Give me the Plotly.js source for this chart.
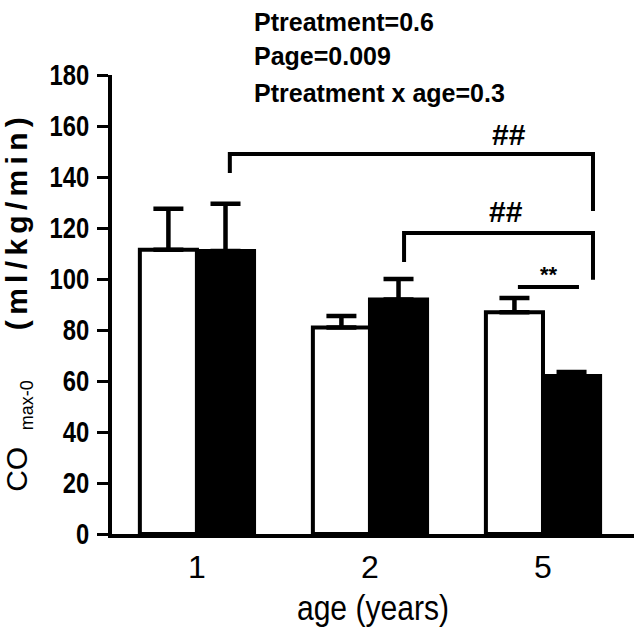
<!DOCTYPE html>
<html>
<head>
<meta charset="utf-8">
<script src="https://cdn.plot.ly/plotly-3.0.1.min.js"></script>
<style>
html,body{margin:0;padding:0;background:#fff;}
#chart{width:642px;height:643px;}
</style>
</head>
<body>
<div id="chart"></div>
<script>
// ---- data ----
const ages = ['1', '2', '5'];
const controlMean = [111.5, 81, 87];
const controlSD = [16, 4.5, 5.5];
const treatedMean = [111, 92, 62];
const treatedSD = [18.5, 8, 1.5];
const noLowerError = [0, 0, 0];
const yTickValues = [0, 20, 40, 60, 80, 100, 120, 140, 160, 180];
const statLines = ['Ptreatment=0.6', 'Page=0.009', 'Ptreatment x age=0.3'];
const sigLabels = ['##', '##', '**'];

const FONT = 'Liberation Sans, Arial, sans-serif';

const errStyle = {type: 'data', symmetric: false, color: '#000', thickness: 4.5, width: 15};

const traces = [
  {
    type: 'bar', name: 'control', x: ages, y: controlMean,
    marker: {color: '#fff', line: {color: '#000', width: 4}},
    error_y: Object.assign({array: controlSD, arrayminus: noLowerError}, errStyle),
    hoverinfo: 'x+y'
  },
  {
    type: 'bar', name: 'treated', x: ages, y: treatedMean,
    marker: {color: '#000', line: {color: '#000', width: 4}},
    error_y: Object.assign({array: treatedSD, arrayminus: noLowerError}, errStyle),
    hoverinfo: 'x+y'
  }
];

const lineStyle = {color: '#000', width: 4};
const shapes = [
  {type: 'path', xref: 'x', yref: 'y', path: 'M0.19,141.6 L0.19,149 L2.289,149 L2.289,126.7', line: lineStyle},
  {type: 'path', xref: 'x', yref: 'y', path: 'M1.197,106.7 L1.197,118 L2.289,118 L2.289,99.7', line: lineStyle},
  {type: 'line', xref: 'x', yref: 'y', x0: 1.855, x1: 2.208, y0: 96.9, y1: 96.9, line: lineStyle}
];

const statY = [1.116, 1.042, 0.960];
const annotations = statLines.map((t, i) => ({
  text: t, xref: 'paper', yref: 'paper', x: 0.268, y: statY[i],
  xanchor: 'left', yanchor: 'middle', showarrow: false,
  font: {family: FONT, size: 25, color: '#000', weight: 'bold'}
}));
const sigPos = [[1.803, 156.5, 30], [1.786, 126.3, 30], [2.035, 101.6, 22]];
sigLabels.forEach((t, i) => annotations.push({
  text: t, xref: 'x', yref: 'y', x: sigPos[i][0], y: sigPos[i][1],
  xanchor: 'center', yanchor: 'middle', showarrow: false,
  font: {family: FONT, size: sigPos[i][2], color: '#000', weight: 'bold'}
}));

const NB = '\u00a0';
const layout = {
  width: 642, height: 643,
  margin: {l: 112, r: 8, t: 75, b: 109, pad: 0},
  paper_bgcolor: '#fff', plot_bgcolor: '#fff',
  showlegend: false,
  barmode: 'group', bargap: 0.34, bargroupgap: 0,
  font: {family: FONT, color: '#000'},
  xaxis: {
    type: 'category', range: [-0.491, 2.526],
    showline: true, linecolor: '#000', linewidth: 4,
    showgrid: false, zeroline: false, ticks: '',
    tickfont: {family: FONT, size: 32, color: '#000'},
    ticklabelstandoff: 2,
    title: {text: 'age (years)', font: {family: FONT, size: 35, color: '#000'}, standoff: 12}
  },
  yaxis: {
    range: [0, 180], tickmode: 'array', tickvals: yTickValues,
    showline: true, linecolor: '#000', linewidth: 4,
    showgrid: false, zeroline: false,
    ticks: 'outside', ticklen: 11, tickwidth: 3, tickcolor: '#000',
    tickfont: {family: FONT, size: 29, color: '#000', weight: 'bold'},
    ticklabelstandoff: 2,
    title: {
      text: 'CO' + NB + NB + '<sub><span style="font-size:18px">max-0</span></sub>' + NB.repeat(6) + '<b>(ml/kg/min)</b>',
      font: {family: FONT, size: 30, color: '#000'}, standoff: 8
    }
  },
  shapes: shapes,
  annotations: annotations
};

function squeeze(sel, factor) {
  document.querySelectorAll(sel).forEach(t => {
    const w = t.getComputedTextLength();
    if (w > 0) {
      t.setAttribute('textLength', (w * factor).toFixed(1));
      t.setAttribute('lengthAdjust', 'spacingAndGlyphs');
    }
  });
}

Plotly.newPlot('chart', traces, layout, {displayModeBar: false, staticPlot: true}).then(() => {
  squeeze('.ytick text', 0.82);
  squeeze('.g-xtitle text', 0.86);
  // the unit part of the y title is letter-spaced in the reference
  document.querySelectorAll('.g-ytitle tspan').forEach(ts => {
    if (ts.querySelector('tspan')) return;
    if (ts.textContent.indexOf('(ml') >= 0) {
      ts.setAttribute('textLength', '213');
      ts.setAttribute('lengthAdjust', 'spacing');
    }
  });
});
</script>
</body>
</html>
